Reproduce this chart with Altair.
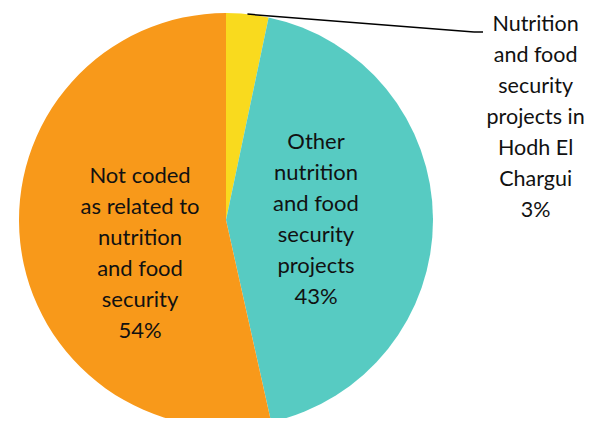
import altair as alt
import pandas as pd
import math

categories = [
    "Nutrition and food security projects in Hodh El Chargui",
    "Other nutrition and food security projects",
    "Not coded as related to nutrition and food security",
]
shares = [3.3, 43.2, 53.5]
pct_labels = ["3%", "43%", "54%"]
label_lines = [
    ["Nutrition", "and food", "security", "projects in", "Hodh El", "Chargui"],
    ["Other", "nutrition", "and food", "security", "projects"],
    ["Not coded", "as related to", "nutrition", "and food", "security"],
]
colors = ["#F9DA1E", "#57CBC2", "#F8991A"]

df = pd.DataFrame({
    "idx": list(range(len(categories))),
    "category": categories,
    "share": shares,
    "label": ["\n".join(l + [p]) for l, p in zip(label_lines, pct_labels)],
})

CX, CY, R = 218, 212, 207
FONT = "Lato"
LH = 31

base = alt.Chart(df)

pie = base.mark_arc(radius=R).encode(
    theta=alt.Theta("share:Q", stack=True),
    color=alt.Color("category:N", scale=alt.Scale(domain=categories, range=colors), legend=None),
    order=alt.Order("idx:Q"),
    x=alt.value(CX),
    y=alt.value(CY),
)

def label_layer(i, radius, dx=0, dy=0, size=22):
    n = len(label_lines[i]) + 1
    return base.transform_calculate(
        lbl=f"datum.idx == {i} ? datum.label : ''"
    ).mark_text(
        radius=radius, dx=dx, dy=dy - (n - 1) * LH / 2, font=FONT, fontSize=size, lineHeight=LH,
        align="center", baseline="middle", lineBreak="\n", color="#111111",
    ).encode(
        theta=alt.Theta("share:Q", stack=True),
        order=alt.Order("idx:Q"),
        text="lbl:N",
        x=alt.value(CX),
        y=alt.value(CY),
    )

t_yellow = label_layer(0, 102.6, dx=299, size=21.5)
t_teal = label_layer(1, 90)
t_orange = label_layer(2, 86.5, dy=24.5)

# leader line from the yellow slice edge to its label
mid = (shares[0] / 2) / sum(shares) * 2 * math.pi
sx, sy = CX + R * math.sin(mid), CY - R * math.cos(mid)
ex, ey = 466, 24
leader1 = base.transform_filter("datum.idx == 0").mark_rule(color="black", strokeWidth=1.5).encode(
    x=alt.value(sx), y=alt.value(sy), x2=alt.value(ex), y2=alt.value(ey)
)
leader2 = base.transform_filter("datum.idx == 0").mark_rule(color="black", strokeWidth=1.5).encode(
    x=alt.value(ex), y=alt.value(ey), x2=alt.value(ex + 9), y2=alt.value(ey)
)

chart = alt.layer(pie, leader1, leader2, t_yellow, t_teal, t_orange).properties(
    width=582, height=410, autosize=alt.AutoSizeParams(type="none"), padding=0,
).configure_view(stroke=None)

chart.save("out.html", embed_options={"renderer": "svg", "actions": False})
